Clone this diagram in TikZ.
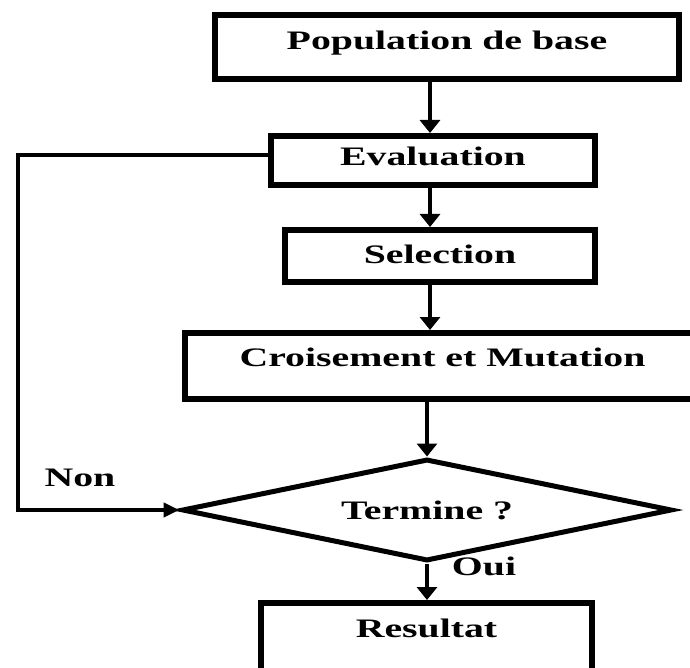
\documentclass[tikz,border=0pt]{standalone}
\usepackage{fontspec}
\setmainfont{Liberation Serif}[FakeStretch=1.49]
\usetikzlibrary{shapes.geometric,arrows.meta}

\newcommand{\flowfont}{\fontsize{26.7}{30}\selectfont\bfseries}

\tikzset{
  stepbox/.style={draw, rectangle, line width=6pt, inner sep=0pt, font=\flowfont, text height=18pt},
  decision/.style={draw, diamond, aspect=4.8, line width=5pt, inner sep=0pt, font=\flowfont},
  flow/.style={line width=4.5pt, -{Triangle[width=20pt,length=13pt]}},
  backflow/.style={line width=4pt, -{Triangle[width=14pt,length=16pt]}},
  tag/.style={font=\flowfont, inner sep=0pt}
}

\begin{document}
\begin{tikzpicture}[x=1pt,y=-1pt]
\useasboundingbox (0,0) rectangle (690,668);
\clip (0,0) rectangle (690,668);

\node[stepbox, minimum width=464pt, minimum height=64pt, text depth=12pt] (pop) at (447,47) {Population de base};
\node[stepbox, minimum width=324pt, minimum height=49pt, text depth=7pt] (eval) at (433,160.5) {Evaluation};
\node[stepbox, minimum width=310pt, minimum height=52pt, text depth=4pt] (sel) at (440,256) {Selection};
\node[stepbox, minimum width=515pt, minimum height=66pt, text depth=17pt] (cro) at (442.5,366) {Croisement et Mutation};
\node[decision, minimum width=490pt, minimum height=102pt] (test) at (427,510) {Termine ?};
\node[stepbox, minimum width=331pt, minimum height=100pt, text depth=50pt] (res) at (426.5,653) {Resultat};

\node[tag] (non) at (80,478) {Non};
\node[tag] (oui) at (484,566) {Oui};

\coordinate (spine) at (430,0);
\coordinate (back) at (18,0);

\draw[flow] (pop.south -| spine) -- (eval.north -| spine);
\draw[flow] (eval.south -| spine) -- (sel.north -| spine);
\draw[flow] (sel.south -| spine) -- (cro.north -| spine);
\draw[flow] (cro.south -| test.north) -- (test.north);
\draw[flow] (test.south) -- (res.north -| test.south);
\draw[backflow] ([yshift=5pt]eval.west) -- ([yshift=5pt]eval.west -| back) |- (test.west);
\end{tikzpicture}
\end{document}
